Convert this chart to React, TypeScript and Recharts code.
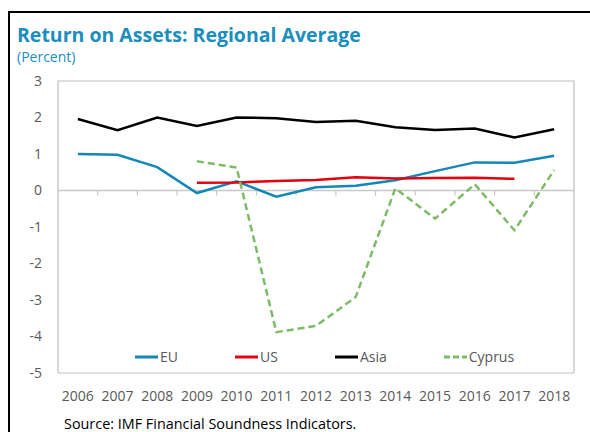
import React from 'react';
import { LineChart, Line, XAxis, YAxis, ReferenceLine, ReferenceArea } from 'recharts';

const years = ['2006','2007','2008','2009','2010','2011','2012','2013','2014','2015','2016','2017','2018'];
const euValues = [1.0, 0.98, 0.64, -0.07, 0.25, -0.17, 0.09, 0.13, 0.28, 0.53, 0.77, 0.76, 0.95];
const usValues = [null, null, null, 0.21, 0.22, 0.26, 0.29, 0.36, 0.33, 0.34, 0.35, 0.32, null];
const asiaValues = [1.96, 1.65, 2.0, 1.77, 2.0, 1.98, 1.88, 1.91, 1.73, 1.66, 1.7, 1.45, 1.68];
const cyprusValues = [null, null, null, 0.8, 0.63, -3.88, -3.71, -2.92, 0.06, -0.77, 0.17, -1.09, 0.56];
const yTicks = [-5, -4, -3, -2, -1, 0, 1, 2, 3];

const seriesNames = ['EU', 'US', 'Asia', 'Cyprus'];
const seriesColors = ['#1387b5', '#e3000f', '#000000', '#7dbb69'];
const seriesDash = ['', '', '', '7 4'];

const data = years.map((y, i) => ({
  i,
  year: y,
  EU: euValues[i],
  US: usValues[i],
  Asia: asiaValues[i],
  Cyprus: cyprusValues[i],
}));

const font = '"Open Sans", "Noto Sans", sans-serif';

export default function App() {
  const boundaries = years.slice(1).map((_, k) => k + 0.5);
  return (
    <div style={{ position: 'fixed', left: 0, top: 0, width: 590, height: 432, background: '#fff', overflow: 'hidden', fontFamily: font }}>
      <div style={{ position: 'absolute', left: 8, top: 11, width: 600, height: 440, borderTop: '2px solid #000', borderLeft: '2px solid #000' }} />
      <div style={{ position: 'absolute', left: 17, top: 22, fontSize: 19.5, fontWeight: 700, color: '#1a8ebd', whiteSpace: 'nowrap', lineHeight: '26px' }}>
        Return on Assets: Regional Average
      </div>
      <div style={{ position: 'absolute', left: 17, top: 47, fontSize: 14, color: '#1a8ebd', whiteSpace: 'nowrap', lineHeight: '20px' }}>
        (Percent)
      </div>
      <div style={{ position: 'absolute', left: 0, top: 0 }}>
        <LineChart width={590} height={432} data={data} margin={{ top: 81, right: 16, bottom: 29, left: 0 }}>
          <XAxis
            dataKey="i"
            type="number"
            domain={[-0.5, 12.5]}
            ticks={years.map((_, i) => i)}
            interval={0}
            tickFormatter={(v: number) => years[v]}
            axisLine={false}
            tickLine={false}
            height={30}
            tickMargin={12}
            tick={{ fill: '#595959', fontSize: 14, fontFamily: font }}
          />
          <YAxis
            domain={[-5, 3]}
            ticks={yTicks}
            interval={0}
            axisLine={false}
            tickLine={false}
            width={58}
            tickMargin={10}
            tick={{ fill: '#595959', fontSize: 14, fontFamily: font }}
          />
          <ReferenceArea x1={-0.5} x2={12.5} y1={-5} y2={3} fill="none" stroke="#bfbfbf" strokeWidth={1.2} />
          <ReferenceLine y={0} stroke="#c8c8c8" strokeWidth={1.5} />
          {boundaries.map((b) => (
            <ReferenceLine key={b} segment={[{ x: b, y: 0 }, { x: b, y: -0.14 }]} stroke="#c8c8c8" strokeWidth={1.2} />
          ))}
          {seriesNames.map((name, k) => (
            <Line
              key={name}
              dataKey={name}
              type="linear"
              stroke={seriesColors[k]}
              strokeWidth={2.5}
              strokeDasharray={seriesDash[k] || undefined}
              dot={false}
              activeDot={false}
              isAnimationActive={false}
            />
          ))}
        </LineChart>
      </div>
      <div style={{ position: 'absolute', left: 135, top: 347, display: 'flex', gap: 57, alignItems: 'center', fontSize: 14, color: '#595959', lineHeight: '20px' }}>
        {seriesNames.map((name, k) => (
          <div key={name} style={{ display: 'flex', alignItems: 'center' }}>
            <svg width={23} height={6} style={{ marginRight: 2 }}>
              <line x1={0} y1={3} x2={23} y2={3} stroke={seriesColors[k]} strokeWidth={3} strokeDasharray={seriesDash[k] ? '6 3' : undefined} />
            </svg>
            <span>{name}</span>
          </div>
        ))}
      </div>
      <div style={{ position: 'absolute', left: 64, top: 414, fontSize: 14.4, color: '#000', whiteSpace: 'nowrap', lineHeight: '20px' }}>
        Source: IMF Financial Soundness Indicators.
      </div>
    </div>
  );
}
